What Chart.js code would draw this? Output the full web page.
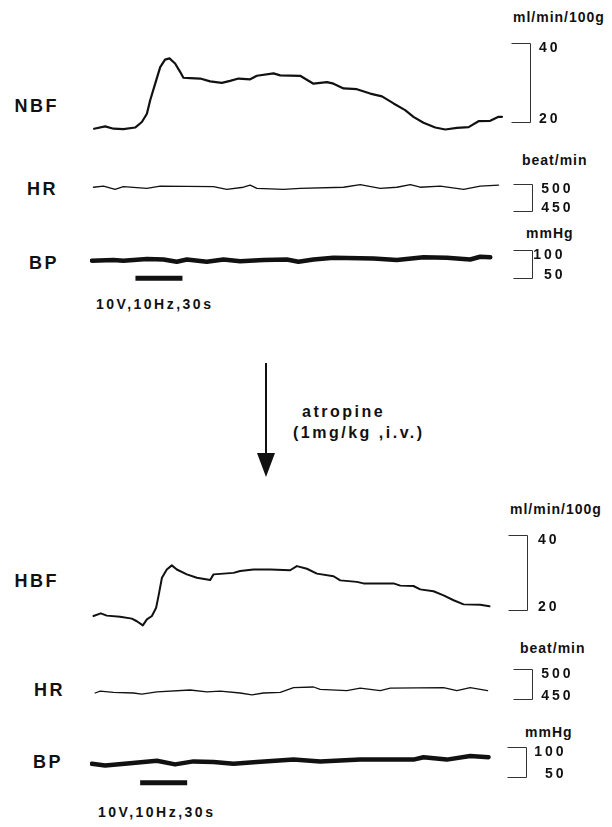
<!DOCTYPE html>
<html>
<head>
<meta charset="UTF-8">
<title>Blood flow, heart rate and pressure traces</title>
<script src="https://cdn.jsdelivr.net/npm/chart.js"></script>
<style>
  body { margin: 0; background: #fff; }
  #fig { position: relative; width: 612px; height: 827px; overflow: hidden;
         font-family: "Liberation Sans", Arial, sans-serif; font-weight: bold; color: #111; }
  .lbl { position: absolute; line-height: 1; white-space: nowrap; }
  .name { font-size: 18px; letter-spacing: 2.5px; }
  .unit { font-size: 14px; letter-spacing: 1px; }
  .stim { font-size: 14px; letter-spacing: 2.5px; }
  .drug { font-size: 16px; letter-spacing: 2.5px; }
  .trace { position: absolute; left: 90px; width: 522px; }
</style>
</head>
<body>
<div id="fig">
  <!-- control recording -->
  <div class="lbl unit" style="left:513px;top:10px">ml/min/100g</div>
  <div class="lbl name" style="right:553px;top:97px">NBF</div>
  <div class="trace" style="top:33px;height:101px"><canvas id="nbf"></canvas></div>

  <div class="lbl unit" style="left:522px;top:153px">beat/min</div>
  <div class="lbl name" style="right:554px;top:180px">HR</div>
  <div class="trace" style="top:176px;height:41px"><canvas id="hr1"></canvas></div>

  <div class="lbl unit" style="left:526px;top:226px">mmHg</div>
  <div class="lbl name" style="right:553px;top:254px">BP</div>
  <div class="trace" style="top:242px;height:44px"><canvas id="bp1"></canvas></div>
  <div class="lbl stim" style="left:96px;top:297px">10V,10Hz,30s</div>

  <!-- drug arrow -->
  <svg style="position:absolute;left:250px;top:360px" width="32" height="120">
    <line x1="16" y1="3" x2="16" y2="95" stroke="#111" stroke-width="2"/>
    <polygon points="7,93 25,93 16,117" fill="#111"/>
  </svg>
  <div class="lbl drug" style="left:302px;top:404px">atropine</div>
  <div class="lbl drug" style="left:293px;top:425px">(1mg/kg ,i.v.)</div>

  <!-- after atropine -->
  <div class="lbl unit" style="left:510px;top:502px">ml/min/100g</div>
  <div class="lbl name" style="right:553px;top:572px">HBF</div>
  <div class="trace" style="top:525px;height:105px"><canvas id="hbf"></canvas></div>

  <div class="lbl unit" style="left:520px;top:641px">beat/min</div>
  <div class="lbl name" style="right:547px;top:681px">HR</div>
  <div class="trace" style="top:663px;height:42px"><canvas id="hr2"></canvas></div>

  <div class="lbl unit" style="left:525px;top:725px">mmHg</div>
  <div class="lbl name" style="right:549px;top:753px">BP</div>
  <div class="trace" style="top:739px;height:48px"><canvas id="bp2"></canvas></div>
  <div class="lbl stim" style="left:98px;top:805px">10V,10Hz,30s</div>
</div>

<script>
// time in seconds from start of each recording
var nbfTime = [0.6, 7.7, 13.0, 19.3, 26.8, 31.1, 34.3, 36.4, 39.6, 42.8, 45.9, 48.7, 52.3, 55.5, 57.6,
    61.9, 68.3, 74.7, 82.1, 87.4, 92.8, 100.2, 104.5, 115.1, 119.4, 132.1, 140.6, 149.2, 153.4, 159.8,
    168.3, 176.8, 184.3, 191.7, 199.1, 204.4, 210.8, 218.3, 224.7, 232.1, 239.6, 245.9, 253.4, 258.7, 260.9];
var nbfFlow = [18.3, 18.9, 18.3, 18.2, 18.6, 20.0, 22.1, 25.5, 29.7, 33.9, 35.8, 36.1, 34.8, 32.7, 31.2,
    31.1, 31.0, 30.3, 29.9, 30.4, 31.0, 30.8, 31.7, 32.3, 31.8, 31.7, 29.7, 30.1, 29.7, 28.5,
    28.3, 27.2, 26.5, 24.7, 23.0, 21.3, 19.8, 18.6, 18.1, 18.5, 18.7, 20.2, 20.3, 21.3, 21.3];

var hrTime1 = [0.2, 6.6, 14.0, 19.3, 34.3, 42.8, 76.8, 85.3, 95.9, 100.2, 104.5, 121.5, 132.1, 159.8,
    170.4, 183.2, 193.8, 202.4, 208.7, 221.5, 236.4, 247.0, 258.7];
var hrRate1 = [494, 496, 490, 495, 492, 496, 495, 490, 494, 498, 492, 490, 492, 494,
    499, 492, 494, 499, 494, 496, 490, 496, 498];

var bpTime1 = [-0.8, 13.0, 19.3, 34.3, 44.9, 53.4, 59.8, 72.5, 83.2, 93.8, 108.7, 123.6, 131.0, 140.6,
    153.4, 178.9, 193.8, 210.8, 225.7, 240.6, 247.0, 253.4];
var bpPress1 = [81, 82, 81, 84, 83, 79, 83, 79, 83, 80, 82, 83, 79, 83, 86, 85, 82, 87, 86, 83, 88, 87];

var hbfTime = [0.2, 4.9, 8.7, 17.2, 24.7, 27.9, 31.7, 34.3, 37.5, 40.2, 41.7, 43.9, 47.0, 50.2, 53.4,
    59.8, 66.2, 74.7, 76.8, 89.6, 93.8, 102.3, 113.0, 125.7, 130.0, 136.4, 142.8, 153.4, 157.7, 168.3,
    172.5, 191.7, 196.0, 204.4, 208.7, 217.2, 223.6, 230.0, 236.4, 247.0, 252.9];
var hbfFlow = [18.4, 19.1, 18.5, 18.2, 17.7, 17.0, 15.9, 17.5, 18.4, 20.6, 23.7, 28.6, 30.8, 31.9, 30.8,
    29.5, 28.6, 28.0, 29.5, 29.9, 30.4, 30.8, 30.8, 30.6, 31.7, 31.0, 29.7, 29.0, 27.9, 27.5,
    27.1, 27.1, 26.5, 26.4, 25.5, 25.0, 23.9, 22.6, 21.5, 21.4, 21.0];

var hrTime2 = [1.3, 4.5, 13.0, 25.7, 31.1, 40.7, 61.9, 72.6, 81.1, 93.8, 101.3, 108.7, 119.4, 127.9,
    140.6, 144.9, 161.9, 170.4, 183.2, 189.6, 223.6, 232.1, 240.6, 251.7];
var hrRate2 = [460, 463, 461, 460, 458, 462, 465, 462, 463, 460, 457, 460, 461, 469,
    470, 466, 464, 468, 464, 468, 469, 464, 469, 464];

var bpTime2 = [-0.8, 7.7, 23.6, 40.7, 52.3, 64.0, 76.8, 89.6, 104.5, 127.9, 144.9, 170.4, 204.4, 210.8,
    225.7, 240.6, 252.3];
var bpPress2 = [72, 69, 73, 77, 71, 76, 75, 72, 75, 79, 76, 79, 79, 83, 79, 85, 83];

// nerve stimulation period (s) and the level the marker bar sits at
var stimTime1 = [27, 57];
var stimTime2 = [30, 60];
var stimLevel1 = 49.5;
var stimLevel2 = 40.5;

// calibration brackets
var flowTicks = [40, 20];
var rateTicks = [500, 450];
var pressTicks = [100, 50];

// draws the calibration bracket and its two values right of the trace
var bracketPlugin = {
    id: 'bracket',
    afterDraw: function (chart, args, o) {
        var ctx = chart.ctx;
        var ys = chart.scales.y;
        var x0 = Math.round(chart.chartArea.right + o.dx) + 0.5;
        var yTop = Math.round(ys.getPixelForValue(o.ticks[0])) + 0.5;
        var yBot = Math.round(ys.getPixelForValue(o.ticks[1])) + 0.5;
        ctx.save();
        ctx.strokeStyle = '#333';
        ctx.lineWidth = 1;
        ctx.beginPath();
        ctx.moveTo(x0 - o.len, yTop);
        ctx.lineTo(x0, yTop);
        ctx.lineTo(x0, yBot);
        ctx.lineTo(x0 - o.len, yBot);
        ctx.stroke();
        ctx.fillStyle = '#111';
        ctx.font = 'bold 14px "Liberation Sans", Arial, sans-serif';
        ctx.letterSpacing = '3px';
        ctx.textAlign = 'right';
        ctx.textBaseline = 'middle';
        ctx.fillText(String(o.ticks[0]), x0 + o.textRight, yTop + 5);
        ctx.fillText(String(o.ticks[1]), x0 + o.textRight, yBot - 3);
        ctx.restore();
    }
};

function points(xs, ys) {
    return xs.map(function (t, i) { return { x: t, y: ys[i] }; });
}

function trace(id, cfg) {
    var sets = [{
        data: points(cfg.time, cfg.values),
        borderColor: '#111',
        borderWidth: cfg.width,
        borderJoinStyle: 'round',
        borderCapStyle: 'round',
        pointRadius: 0,
        tension: 0,
        clip: false
    }];
    if (cfg.stim) {
        sets.push({
            data: points(cfg.stim, [cfg.stimLevel, cfg.stimLevel]),
            borderColor: '#111',
            borderWidth: 5,
            borderCapStyle: 'butt',
            pointRadius: 0,
            clip: false
        });
    }
    return new Chart(document.getElementById(id), {
        type: 'line',
        data: { datasets: sets },
        options: {
            animation: false,
            responsive: true,
            maintainAspectRatio: false,
            events: [],
            layout: { padding: { left: 0, right: 102, top: cfg.padTop, bottom: cfg.padBottom } },
            scales: {
                x: { type: 'linear', display: false, min: -2, max: 266 },
                y: { display: false, min: cfg.ticks[1], max: cfg.ticks[0] }
            },
            plugins: {
                legend: { display: false },
                tooltip: { enabled: false },
                bracket: { ticks: cfg.ticks, dx: cfg.dx, len: 19, textRight: cfg.textRight }
            }
        },
        plugins: [bracketPlugin]
    });
}

trace('nbf', { time: nbfTime, values: nbfFlow, width: 2.2, ticks: flowTicks,
    padTop: 10, padBottom: 12, dx: 20, textRight: 30 });
trace('hr1', { time: hrTime1, values: hrRate1, width: 1.3, ticks: rateTicks,
    padTop: 8, padBottom: 6, dx: 22, textRight: 41 });
trace('bp1', { time: bpTime1, values: bpPress1, width: 4.5, ticks: pressTicks,
    padTop: 8, padBottom: 8, dx: 22, textRight: 33,
    stim: stimTime1, stimLevel: stimLevel1 });

trace('hbf', { time: hbfTime, values: hbfFlow, width: 2, ticks: flowTicks,
    padTop: 10, padBottom: 20, dx: 17, textRight: 32 });
trace('hr2', { time: hrTime2, values: hrRate2, width: 1.3, ticks: rateTicks,
    padTop: 6, padBottom: 6, dx: 22, textRight: 41 });
trace('bp2', { time: bpTime2, values: bpPress2, width: 4.5, ticks: pressTicks,
    padTop: 8, padBottom: 10, dx: 16, textRight: 40,
    stim: stimTime2, stimLevel: stimLevel2 });
</script>
</body>
</html>
